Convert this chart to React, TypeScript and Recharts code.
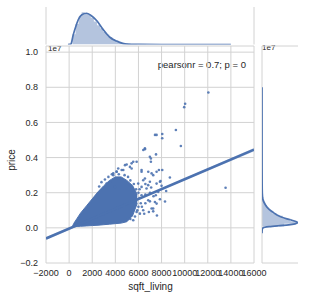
import {
  ComposedChart,
  Area,
  Line,
  Scatter,
  XAxis,
  YAxis,
  CartesianGrid,
  ReferenceLine,
} from "recharts";

const BLUE = "#4C72B0";
const GRID = "#d2d2d2";
const TEXT = "#262626";
const FONT = "'Liberation Sans', Arial, sans-serif";

// axes (price is in units of 1e7)
const sqftTicks = [-2000, 0, 2000, 4000, 6000, 8000, 10000, 12000, 14000, 16000];
const priceTicks = [-0.2, 0, 0.2, 0.4, 0.6, 0.8, 1.0];

// dense body of the scatter, as an envelope
const cloudSqft = [250, 400, 700, 1000, 1500, 2000, 2500, 3000, 3500, 4000, 4500, 5000, 5500, 5900];
const cloudLow = [0, 0.006, 0.008, 0.009, 0.011, 0.013, 0.015, 0.018, 0.021, 0.024, 0.027, 0.035, 0.07, 0.14];
const cloudHigh = [0.002, 0.025, 0.055, 0.085, 0.125, 0.165, 0.205, 0.24, 0.27, 0.29, 0.29, 0.27, 0.24, 0.19];

// sparse points around the body
const pointSqft = [
  12050, 10040, 9960, 13540, 9240, 9670, 8720, 7434, 8060, 8060, 7570, 6560, 6420, 6560, 7520,
  7078, 7078, 6990, 5550, 5843, 5410, 4980, 4835, 5263, 5410, 4250, 4550, 4690, 6270, 6270,
  6850, 7570, 7280, 7137, 7770, 8060, 3820, 4110, 3820, 4114, 6560, 6413, 6990, 7860, 7910,
  7570, 5980, 6846, 8000, 6270, 6700, 3535, 3250, 3967, 7710, 6270, 5700, 7500, 7860, 6846,
  6992, 7424, 7570, 7137, 7277, 7277, 6413, 5843, 6128, 5411, 5117, 5549,
  2600, 2800, 3100, 3400, 3700, 4300, 4800, 5100, 5300, 5600, 5800, 6000, 6100, 6200, 6000,
  5900, 6300, 6600, 6500, 5700, 6900, 7000, 7300, 6600, 5500, 6100, 6600, 7100, 8300, 8400,
  7600, 5300,
];
const pointPrice = [
  0.77, 0.706, 0.687, 0.228, 0.557, 0.466, 0.287, 0.529, 0.534, 0.51, 0.529, 0.447, 0.443, 0.453, 0.418,
  0.395, 0.376, 0.405, 0.376, 0.376, 0.367, 0.361, 0.357, 0.347, 0.338, 0.338, 0.329, 0.329, 0.319, 0.329,
  0.319, 0.319, 0.3, 0.31, 0.329, 0.329, 0.31, 0.32, 0.3, 0.319, 0.281, 0.271, 0.262, 0.262, 0.266,
  0.252, 0.252, 0.243, 0.239, 0.233, 0.224, 0.262, 0.252, 0.233, 0.205, 0.186, 0.176, 0.186, 0.163, 0.157,
  0.151, 0.147, 0.138, 0.11, 0.11, 0.094, 0.1, 0.09, 0.081, 0.071, 0.053, 0.043,
  0.235, 0.26, 0.275, 0.29, 0.305, 0.305, 0.3, 0.29, 0.27, 0.25, 0.22, 0.2, 0.17, 0.14, 0.12,
  0.1, 0.12, 0.14, 0.08, 0.065, 0.09, 0.2, 0.18, 0.19, 0.2, 0.22, 0.25, 0.23, 0.15, 0.21,
  0.07, 0.05,
];

// regression line and its confidence band
const fitSqft = [-2000, 4000, 10000, 16000];
const fitPrice = [-0.0605, 0.108, 0.2765, 0.445];
const fitCiLow = [-0.069, 0.105, 0.271, 0.435];
const fitCiHigh = [-0.052, 0.111, 0.282, 0.455];

// top marginal: sqft_living (histogram bin left edges, last entry closes the last bin)
const sqftEdges = [
  290, 555, 820, 1085, 1350, 1615, 1880, 2145, 2410, 2675, 2940, 3205, 3470, 3735, 4000,
  4265, 4530, 4795, 5060, 5325, 5590, 5855, 6120, 6385, 6650, 6915, 7180, 7445, 7710, 7975, 8240,
];
const sqftCounts = [
  0.33, 0.66, 0.9, 1.03, 1.0, 0.95, 0.86, 0.74, 0.62, 0.52, 0.41, 0.32, 0.24, 0.18, 0.13,
  0.09, 0.06, 0.045, 0.03, 0.02, 0.014, 0.01, 0.008, 0.006, 0.004, 0.004, 0.003, 0.002, 0.002, 0.001, 0,
];
const sqftKdeX = [-100, 150, 350, 600, 800, 1100, 1500, 1900, 2400, 2900, 3500, 4100, 4700, 5300, 6000, 8000, 14000];
const sqftKdeY = [0, 0.01, 0.3, 0.6, 0.8, 0.95, 1.0, 0.93, 0.76, 0.5, 0.24, 0.11, 0.03, 0.008, 0.002, 0, 0];

// right marginal: price (histogram bin lower edges, last entry closes the last bin)
const priceEdges = [
  0.0075, 0.0228, 0.038, 0.0533, 0.0685, 0.0838, 0.099, 0.1143, 0.1295, 0.1448, 0.16, 0.1753,
  0.1905, 0.2058, 0.221, 0.2363,
];
const priceCounts = [0.62, 0.98, 0.8, 0.58, 0.41, 0.29, 0.2, 0.14, 0.09, 0.06, 0.04, 0.03, 0.02, 0.014, 0.01, 0];
const priceKdeX = [
  -0.03, -0.01, 0, 0.007, 0.012, 0.017, 0.023, 0.029, 0.036, 0.044, 0.051, 0.06, 0.07, 0.08, 0.09,
  0.1, 0.118, 0.14, 0.166, 0.2, 0.25, 0.35, 0.5, 0.8,
];
const priceKdeY = [
  0, 0.005, 0.03, 0.2, 0.45, 0.75, 0.93, 1.0, 0.95, 0.83, 0.7, 0.56, 0.45, 0.37, 0.3,
  0.23, 0.14, 0.07, 0.02, 0.008, 0.004, 0.002, 0.001, 0,
];

const cloud = cloudSqft.map((s, i) => ({ sqft: s, band: [cloudLow[i], cloudHigh[i]] }));
const points = pointSqft.map((s, i) => ({ sqft: s, price: pointPrice[i] }));
const fit = fitSqft.map((s, i) => ({ sqft: s, fit: fitPrice[i], ci: [fitCiLow[i], fitCiHigh[i]] }));
const sqftHist = sqftEdges.map((s, i) => ({ sqft: s, count: sqftCounts[i] }));
const sqftKde = sqftKdeX.map((s, i) => ({ sqft: s, dens: sqftKdeY[i] }));
const priceHist = priceEdges.map((p, i) => ({ price: p, count: priceCounts[i] }));
const priceKde = priceKdeX.map((p, i) => ({ price: p, dens: priceKdeY[i] }));

const minus = (s: string) => s.replace("-", "\u2212");
const tickStyle = { fontSize: 9, fill: TEXT, fontFamily: FONT };

const Dot = (props: any) => (
  <circle cx={props.cx} cy={props.cy} r={1.3} fill={BLUE} fillOpacity={0.9} />
);

const MainPlot = () => (
  <ComposedChart width={315} height={297} margin={{ top: 46, right: 61, bottom: 0, left: 6 }}>
    <CartesianGrid stroke={GRID} />
    <XAxis
      type="number"
      dataKey="sqft"
      domain={[-2000, 16000]}
      ticks={sqftTicks}
      interval={0}
      allowDataOverflow
      height={34}
      tickLine={false}
      axisLine={false}
      tickSize={0}
      tickMargin={7}
      tick={tickStyle}
      tickFormatter={(v: number) => minus(String(v))}
    />
    <YAxis
      type="number"
      domain={[-0.2, 1.035]}
      ticks={priceTicks}
      allowDataOverflow
      width={40}
      tickLine={false}
      axisLine={false}
      tickSize={0}
      tickMargin={8}
      tick={tickStyle}
      tickFormatter={(v: number) => minus(v.toFixed(1))}
    />
    <Area data={cloud} dataKey="band" type="linear" stroke={BLUE} strokeWidth={1} fill={BLUE} fillOpacity={1} isAnimationActive={false} />
    <Scatter data={points} dataKey="price" shape={Dot} isAnimationActive={false} />
    <Area data={fit} dataKey="ci" type="linear" stroke="none" fill={BLUE} fillOpacity={0.2} isAnimationActive={false} />
    <Line data={fit} dataKey="fit" type="linear" stroke={BLUE} strokeWidth={2.6} dot={false} isAnimationActive={false} />
  </ComposedChart>
);

const TopMarginal = () => (
  <ComposedChart width={315} height={48} margin={{ top: 7, right: 61, bottom: 3.5, left: 46 }}>
    <CartesianGrid stroke={GRID} horizontal={false} fill="#ffffff" />
    <XAxis
      type="number"
      dataKey="sqft"
      domain={[-2000, 16000]}
      ticks={sqftTicks}
      interval={0}
      allowDataOverflow
      height={0}
      tick={false}
      tickLine={false}
      axisLine={false}
    />
    <YAxis type="number" domain={[0, 1.2]} allowDataOverflow width={0} tick={false} tickLine={false} axisLine={false} />
    <Area data={sqftHist} dataKey="count" type="stepAfter" stroke="none" fill={BLUE} fillOpacity={0.42} isAnimationActive={false} />
    <Line data={sqftKde} dataKey="dens" type="monotone" stroke={BLUE} strokeWidth={1.7} dot={false} isAnimationActive={false} />
  </ComposedChart>
);

const RightMarginal = () => (
  <ComposedChart layout="vertical" width={315} height={297} margin={{ top: 46, right: 17, bottom: 34, left: 262 }}>
    <CartesianGrid stroke={GRID} vertical={false} />
    <XAxis type="number" domain={[0, 1.01]} allowDataOverflow height={0} tick={false} tickLine={false} axisLine={false} />
    <YAxis
      type="number"
      dataKey="price"
      domain={[-0.2, 1.035]}
      ticks={priceTicks}
      allowDataOverflow
      reversed
      width={0}
      tick={false}
      tickLine={false}
      axisLine={false}
    />
    <ReferenceLine x={0} stroke={GRID} />
    <Area data={priceHist} dataKey="count" type="stepBefore" stroke="none" fill={BLUE} fillOpacity={0.42} isAnimationActive={false} />
    <Line data={priceKde} dataKey="dens" type="monotone" stroke={BLUE} strokeWidth={1.7} dot={false} isAnimationActive={false} />
  </ComposedChart>
);

const Labels = () => (
  <svg width={315} height={297} style={{ fontFamily: FONT, fill: TEXT }}>
    <text x={48} y={51} fontSize={8}>1e7</text>
    <text x={262} y={50} fontSize={8}>1e7</text>
    <text x={246} y={67.5} fontSize={9.5} textAnchor="end">pearsonr = 0.7; p = 0</text>
    <text x={150.5} y={290} fontSize={10} textAnchor="middle">sqft_living</text>
    <text transform="translate(14.5,160) rotate(-90)" fontSize={10} textAnchor="middle">price</text>
  </svg>
);

const layer = { position: "absolute" as const, left: 0, top: 0 };

export default function App() {
  return (
    <div style={{ ...layer, width: 315, height: 297, background: "#fff" }}>
      <div style={layer}><Labels /></div>
      <div style={layer}><MainPlot /></div>
      <div style={layer}><RightMarginal /></div>
      <div style={layer}><TopMarginal /></div>
    </div>
  );
}
